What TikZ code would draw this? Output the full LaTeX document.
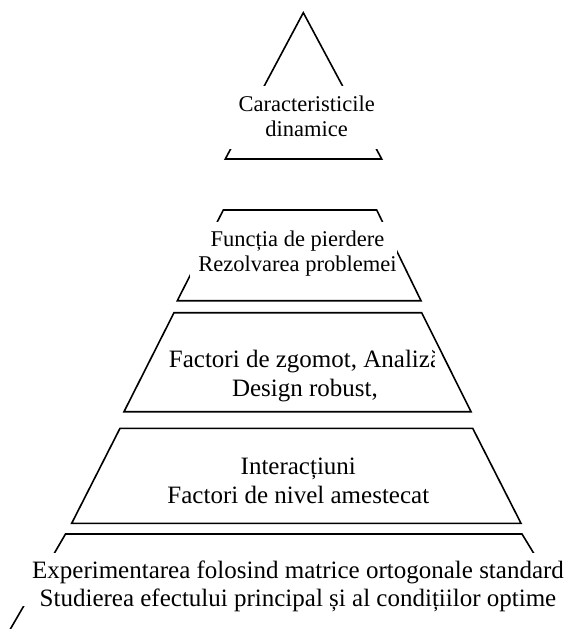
\documentclass[tikz,border=0pt]{standalone}
\usepackage{fontspec}
\setmainfont{Liberation Serif}
\usetikzlibrary{positioning}
\tikzset{
  tier/.style={line width=1.6pt},
  cover/.style={fill=white},
  lbl/.style={align=center, inner sep=0pt, font=\fontsize{25}{28.5}\selectfont},
  lblsmall/.style={align=center, inner sep=0pt, font=\fontsize{22.5}{25}\selectfont}
}

\begin{document}
\begin{tikzpicture}[x=1pt, y=-1pt]
  \useasboundingbox (0,0) rectangle (563,629);
  \clip (0,0) rectangle (563,629);

  % Apex triangle
  \draw[tier] (225.3,159) -- (303.3,12.7) -- (381.7,159) -- cycle;
  \fill[cover] (226,86) rectangle (386,149.3);
  \node[lblsmall] (dyn) at (306.7,116) {Caracteristicile\\dinamice};

  % Second tier
  \draw[tier] (223.3,210) -- (376.7,210) -- (421,300.7) -- (177.3,300.7) -- cycle;
  \fill[cover] (190,221.7) rectangle (397,277);
  \node[lblsmall] (loss) at (297.5,253.5) {Funcția de pierdere\\Rezolvarea problemei};

  % Third tier, text cut by its box
  \draw[tier] (174,312.7) -- (421.7,312.7) -- (471,411.7) -- (124,411.7) -- cycle;
  \begin{scope}
    \clip (100,320) rectangle (434,405);
    \node[lbl] (noise) at (305,376) {Factori de zgomot, Analiză\\Design robust,};
  \end{scope}

  % Fourth tier
  \draw[tier] (120,428.3) -- (472.7,428.3) -- (521,523.3) -- (71.7,523.3) -- cycle;
  \node[lbl] (inter) at (298.3,481) {Interacțiuni\\Factori de nivel amestecat};

  % Base tier, running off the page
  \draw[tier] (-7.6,660) -- (65.5,534) -- (522,534) -- (550,580);
  \fill[cover] (18,553.3) rectangle (600,606);
  \node[lbl] (ortho) at (298,586.5) {Experimentarea folosind matrice ortogonale standard\\Studierea efectului principal și al condițiilor optime};
\end{tikzpicture}
\end{document}
